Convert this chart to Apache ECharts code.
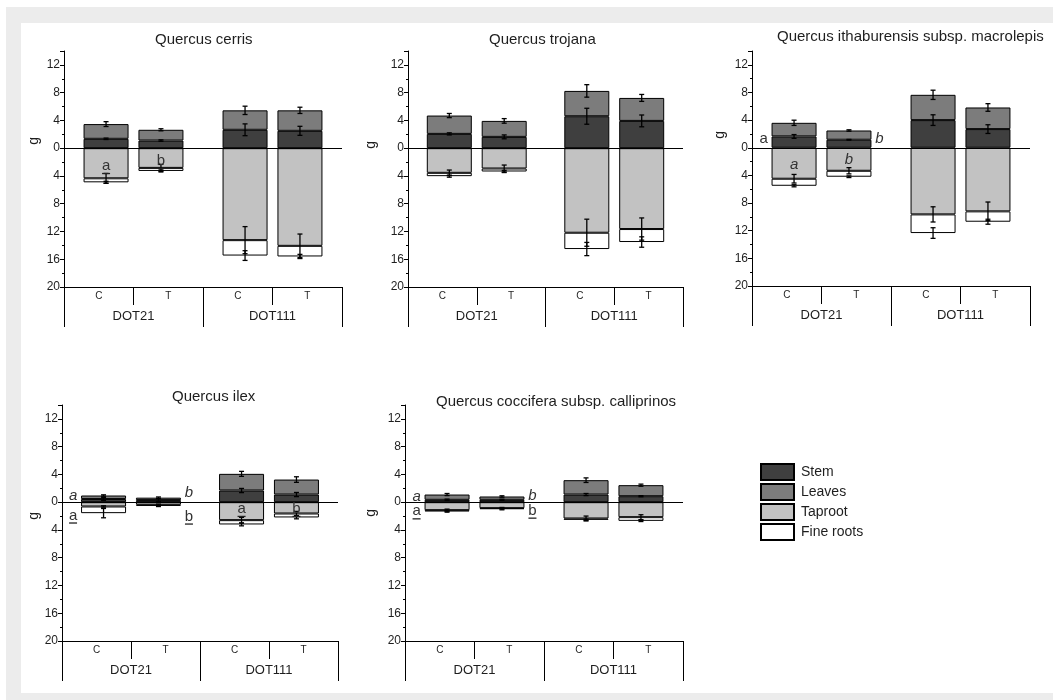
<!DOCTYPE html>
<html>
<head>
<meta charset="utf-8">
<script src="https://cdn.jsdelivr.net/npm/echarts@6/dist/echarts.min.js"></script>
<style>
  html, body { margin: 0; padding: 0; background: #ffffff; }
  #frame { position: absolute; left: 6px; top: 7px; width: 1047px; height: 693px; background: #ececec; }
  #inner { position: absolute; left: 21px; top: 23px; width: 1032px; height: 670px; background: #ffffff; }
  #chart { position: absolute; left: 0; top: 0; width: 1053px; height: 700px; }
</style>
</head>
<body>
<div id="frame"></div>
<div id="inner"></div>
<div id="chart"></div>
<script>
// ---------------- DATA ----------------
const panelTitles = [
  'Quercus cerris',
  'Quercus trojana',
  'Quercus ithaburensis subsp. macrolepis',
  'Quercus ilex',
  'Quercus coccifera subsp. calliprinos'
];
const groups = ['DOT21', 'DOT111'];
const treatments = ['C', 'T'];
const tickLabels = ['C', 'T', 'C', 'T'];
const segmentNames = ['Stem', 'Leaves', 'Taproot', 'Fine roots'];
const yTickValues = [-20, -16, -12, -8, -4, 0, 4, 8, 12];

// segment values per panel: [DOT21, DOT111]
const stemC    = [[1.35, 2.65], [2.06, 4.6 ], [1.64, 4.0 ], [0.45, 1.68], [0.34, 1.1 ]];
const stemT    = [[1.1 , 2.5 ], [1.63, 3.93], [1.16, 2.7 ], [0.3 , 1.1 ], [0.34, 0.86]];
const leavesC  = [[2.12, 2.8 ], [2.64, 3.65], [1.97, 3.66], [0.51, 2.4 ], [0.76, 2.07]];
const leavesT  = [[1.55, 2.95], [2.3 , 3.31], [1.34, 3.13], [0.35, 2.16], [0.48, 1.59]];
const taprootC = [[-4.34, -13.25], [-3.55, -12.18], [-4.48, -9.64], [-0.62, -2.59], [-1.15, -2.35]];
const taprootT = [[-2.84, -14.07], [-2.93, -11.65], [-3.33, -9.2 ], [-0.38, -1.63], [-0.86, -2.16]];
const fineC    = [[-0.58, -2.22], [-0.48, -2.35], [-1.02, -2.7 ], [-0.96, -0.62], [-0.19, -0.19]];
const fineT    = [[-0.44, -1.53], [-0.43, -1.87], [-0.86, -1.5 ], [-0.15, -0.57], [-0.14, -0.53]];

// error bar half-widths (shown at each segment's cumulative end)
const errStemC    = [[0.1 , 0.85], [0.15, 1.15], [0.27, 0.77], [0.2 , 0.3 ], [0.1 , 0.15]];
const errStemT    = [[0.1 , 0.65], [0.28, 0.85], [0.05, 0.63], [0.2 , 0.3 ], [0.08, 0.08]];
const errLeavesC  = [[0.35, 0.6 ], [0.3 , 0.9 ], [0.38, 0.67], [0.1 , 0.36], [0.15, 0.33]];
const errLeavesT  = [[0.15, 0.45], [0.33, 0.5 ], [0.1 , 0.55], [0.1 , 0.4 ], [0.1 , 0.15]];
const errTaprootC = [[0.7 , 1.95], [0.4 , 1.95], [0.62, 1.1 ], [0.1 , 0.4 ], [0.15, 0.35]];
const errTaprootT = [[0.5 , 1.7 ], [0.5 , 1.6 ], [0.45, 1.35], [0.1 , 0.3 ], [0.1 , 0.35]];
const errFineC    = [[0.15, 0.7 ], [0.15, 0.95], [0.15, 0.77], [0.67, 0.2 ], [0.1 , 0.1 ]];
const errFineT    = [[0.15, 0.3 ], [0.15, 0.75], [0.12, 0.36], [0.1 , 0.2 ], [0.1 , 0.1 ]];

// significance letters: group index, anchor, value level, text, italic, underline
const letterMarks = [
  [ {g:0, at:'C',  y:-2.55, t:'a', i:false, u:true}, {g:0, at:'T',  y:-1.8, t:'b', i:false, u:true} ],
  [],
  [ {g:0, at:'CL', y:1.35, t:'a', i:false, u:false}, {g:0, at:'TR', y:1.35, t:'b', i:true, u:false},
    {g:0, at:'C',  y:-2.5, t:'a', i:true,  u:false}, {g:0, at:'T',  y:-1.8, t:'b', i:true, u:false} ],
  [ {g:0, at:'CL', y:0.96, t:'a', i:true, u:false}, {g:0, at:'CL', y:-1.9, t:'a', i:false, u:true},
    {g:0, at:'TR', y:1.3,  t:'b', i:true, u:false}, {g:0, at:'TR', y:-2.05, t:'b', i:false, u:true},
    {g:1, at:'C',  y:-0.95, t:'a', i:false, u:true}, {g:1, at:'T', y:-0.95, t:'b', i:false, u:true} ],
  [ {g:0, at:'CL', y:0.82, t:'a', i:true, u:false}, {g:0, at:'CL', y:-1.3, t:'a', i:false, u:true},
    {g:0, at:'TR', y:0.96, t:'b', i:true, u:false}, {g:0, at:'TR', y:-1.2, t:'b', i:false, u:true} ]
];

// ---------------- LAYOUT / STYLE ----------------
const FONT = 'Liberation Sans, Arial, Helvetica, sans-serif';
const TXT = '#1e1e1e';
const segColors = ['#3f3f3f', '#7c7c7c', '#c2c2c2', '#ffffff'];
const BAR_W = 45;
const BAR_GAP_RATIO = 0.22;
const grids = [
  {left: 64,  top: 51, width: 278, height: 236},
  {left: 408, top: 51, width: 275, height: 236},
  {left: 752, top: 51, width: 278, height: 235},
  {left: 62,  top: 405, width: 276, height: 236},
  {left: 405, top: 405, width: 278, height: 236}
];
const titlePos = [
  {left: 155, top: 31}, {left: 489, top: 31}, {left: 777, top: 28},
  {left: 172, top: 388}, {left: 436, top: 393}
];
const gLabelPos = [[33, 143], [370, 147], [719, 137], [33, 518], [370, 515]];

const chart = echarts.init(document.getElementById('chart'), null, {renderer: 'canvas'});

const option = {
  backgroundColor: 'transparent',
  animation: false,
  textStyle: {fontFamily: FONT},
  title: [],
  grid: [],
  xAxis: [],
  yAxis: [],
  series: [],
  graphic: [],
  legend: {
    orient: 'vertical',
    left: 760, top: 463, padding: 0,
    itemWidth: 33, itemHeight: 16, itemGap: 2,
    icon: 'rect',
    data: segmentNames,
    textStyle: {fontFamily: FONT, fontSize: 14, color: TXT, lineHeight: 17, padding: [0, 0, 0, 2]},
    selectedMode: false
  }
};

const segData = {
  C: [stemC, leavesC, taprootC, fineC],
  T: [stemT, leavesT, taprootT, fineT]
};
const errData = {
  C: [errStemC, errLeavesC, errTaprootC, errFineC],
  T: [errStemT, errLeavesT, errTaprootT, errFineT]
};

function errRender(params, api) {
  const g = api.value(0), c = api.value(1), e = api.value(2), side = api.value(3);
  const base = api.coord([g, c]);
  const off = (BAR_W + BAR_W * BAR_GAP_RATIO) / 2;
  const x = base[0] + (side === 0 ? -off : off);
  const yT = api.coord([g, c + e])[1];
  const yB = api.coord([g, c - e])[1];
  const cap = 2.5;
  const st = {stroke: '#000', lineWidth: 1.3};
  return {
    type: 'group',
    children: [
      {type: 'line', shape: {x1: x, y1: yT, x2: x, y2: yB}, style: st},
      {type: 'line', shape: {x1: x - cap, y1: yT, x2: x + cap, y2: yT}, style: st},
      {type: 'line', shape: {x1: x - cap, y1: yB, x2: x + cap, y2: yB}, style: st}
    ]
  };
}

function makeLetterRender(p) {
  return function (params, api) {
    const m = letterMarks[p][params.dataIndex];
    const pt = api.coord([api.value(0), api.value(1)]);
    const off = (BAR_W + BAR_W * BAR_GAP_RATIO) / 2;
    let x = pt[0];
    if (m.at === 'C') x -= off;
    else if (m.at === 'T') x += off;
    else if (m.at === 'CL') x -= off + BAR_W / 2 + 8;
    else if (m.at === 'TR') x += off + BAR_W / 2 + 8;
    const children = [{
      type: 'text',
      style: {
        x: x, y: pt[1], text: m.t,
        textAlign: 'center', textVerticalAlign: 'middle',
        font: (m.i ? 'italic ' : '') + '15px ' + FONT,
        fill: '#333'
      }
    }];
    if (m.u) {
      children.push({type: 'rect', shape: {x: x - 4, y: pt[1] + 7, width: 8, height: 1.3},
        style: {fill: '#222'}});
    }
    return {type: 'group', children: children};
  };
}

for (let p = 0; p < 5; p++) {
  option.grid.push(Object.assign({containLabel: false, outerBoundsMode: 'none'}, grids[p]));
  option.title.push({
    text: panelTitles[p], left: titlePos[p].left, top: titlePos[p].top, padding: 0,
    textStyle: {fontFamily: FONT, fontSize: 15, fontWeight: 'normal', color: TXT, lineHeight: 18}
  });
  // x axis used by bars: groups
  const xGroupIdx = option.xAxis.length;
  option.xAxis.push({
    type: 'category', gridIndex: p, data: groups, position: 'bottom',
    axisLine: {onZero: false, lineStyle: {color: '#000', width: 1}},
    axisTick: {show: true, interval: 0, length: 40, lineStyle: {color: '#000', width: 1}},
    axisLabel: {interval: 0, margin: 23, fontSize: 13, color: TXT, fontFamily: FONT},
    splitLine: {show: false}
  });
  // label axis: treatments
  option.xAxis.push({
    type: 'category', gridIndex: p, data: tickLabels, position: 'bottom',
    axisLine: {onZero: false, lineStyle: {color: '#000', width: 1}},
    axisTick: {show: true, interval: 0, length: 18, lineStyle: {color: '#000', width: 1}},
    axisLabel: {interval: 0, margin: 4, fontSize: 10, color: TXT, fontFamily: FONT},
    splitLine: {show: false}
  });
  const yIdx = option.yAxis.length;
  option.yAxis.push({
    type: 'value', gridIndex: p, min: -20, max: 14, interval: 4,
    axisLine: {show: true, onZero: false, lineStyle: {color: '#000', width: 1}},
    axisTick: {show: true, inside: false, length: 4, lineStyle: {color: '#000'}},
    minorTick: {show: true, splitNumber: 2, length: 2, lineStyle: {color: '#000'}},
    axisLabel: {
      margin: 4, fontSize: 12, color: TXT, fontFamily: FONT, showMaxLabel: false,
      formatter: function (v) { return yTickValues.indexOf(v) >= 0 ? String(Math.abs(v)) : ''; }
    },
    splitLine: {show: false}
  });

  treatments.forEach(function (tr, ti) {
    for (let s = 0; s < 4; s++) {
      const ser = {
        type: 'bar', name: segmentNames[s], stack: 'p' + p + tr,
        xAxisIndex: xGroupIdx, yAxisIndex: yIdx,
        barWidth: BAR_W, barGap: (BAR_GAP_RATIO * 100) + '%',
        data: segData[tr][s][p],
        itemStyle: {color: segColors[s], borderColor: '#000', borderWidth: 1},
        emphasis: {disabled: true},
        z: 2
      };
      if (ti === 0 && s === 0) {
        ser.markLine = {
          silent: true, symbol: 'none', label: {show: false},
          lineStyle: {color: '#000', width: 1, type: 'solid'},
          data: [{yAxis: 0}]
        };
      }
      option.series.push(ser);
    }
  });

  // error bars
  const eb = [];
  treatments.forEach(function (tr, ti) {
    for (let g = 0; g < 2; g++) {
      const st = segData[tr][0][p][g], lv = segData[tr][1][p][g];
      const tp = segData[tr][2][p][g], fn = segData[tr][3][p][g];
      eb.push([g, st, errData[tr][0][p][g], ti]);
      eb.push([g, st + lv, errData[tr][1][p][g], ti]);
      eb.push([g, tp, errData[tr][2][p][g], ti]);
      eb.push([g, tp + fn, errData[tr][3][p][g], ti]);
    }
  });
  option.series.push({
    type: 'custom', name: 'err' + p, xAxisIndex: xGroupIdx, yAxisIndex: yIdx,
    renderItem: errRender, data: eb, encode: {x: 0, y: 1}, z: 5, silent: true
  });
  if (letterMarks[p].length) {
    option.series.push({
      type: 'custom', name: 'letters' + p, xAxisIndex: xGroupIdx, yAxisIndex: yIdx,
      renderItem: makeLetterRender(p),
      data: letterMarks[p].map(function (m) { return [m.g, m.y]; }),
      encode: {x: 0, y: 1}, z: 6, silent: true
    });
  }
  option.graphic.push({
    type: 'text', left: gLabelPos[p][0] - 6, top: gLabelPos[p][1] - 6, rotation: Math.PI / 2,
    style: {text: 'g', font: '14px ' + FONT, fill: TXT}
  });
}

chart.setOption(option);
</script>
</body>
</html>
